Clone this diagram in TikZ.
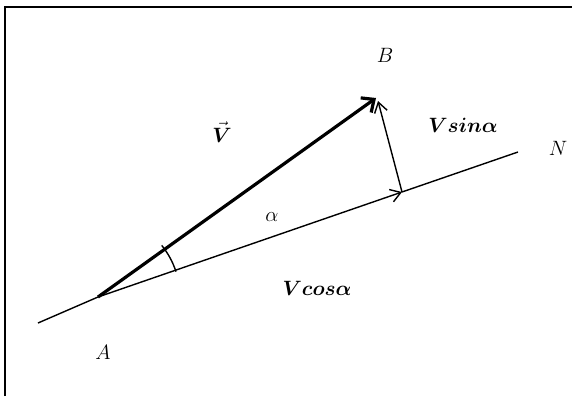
\documentclass[tikz,border=0pt]{standalone}
\usepackage{bm}
\usetikzlibrary{arrows.meta}
\begin{document}
\begin{tikzpicture}[x=1pt,y=-1pt,
  thinline/.style={line width=1.4pt},
  boldvec/.style={line width=3.2pt,-{Straight Barb[length=10pt,width=18pt,line width=3.2pt]}},
  thinvec/.style={line width=1.4pt,-{Straight Barb[length=10pt,width=13pt,line width=1.4pt]}},
  lbl/.style={font=\huge, inner sep=0pt}]
\useasboundingbox (0,0) rectangle (572,396);
\draw[line width=1.6pt] (5,396) -- (5,7) -- (572,7);
\coordinate (L) at (38,323);
\coordinate (A0) at (98,297);
\coordinate (T) at (376,98);
\coordinate (F) at (402,192);
\coordinate (E) at (518,152);
\coordinate (Bt) at (378,101);
\draw[thinline] (L) -- (A0);
\draw[thinvec] (A0) -- (F);
\draw[thinline] (F) -- (E);
\draw[thinvec] (F) -- (Bt);
\draw[boldvec] (A0) -- (T);
\draw[thinline] (A0) ++(-18:82) arc[start angle=-18,end angle=-39,radius=82];
\node[lbl] (B) at (385,55) {$B$};
\node[lbl] (V) at (222,132) {$\vec{\bm{V}}$};
\node[lbl] (vs) at (463,125) {$\bm{Vsin\alpha}$};
\node[lbl] (N) at (558,148) {$N$};
\node[lbl] (al) at (272,217) {$\alpha$};
\node[lbl] (vc) at (317,288) {$\bm{Vcos\alpha}$};
\node[lbl] (A) at (103,352) {$A$};
\end{tikzpicture}
\end{document}
